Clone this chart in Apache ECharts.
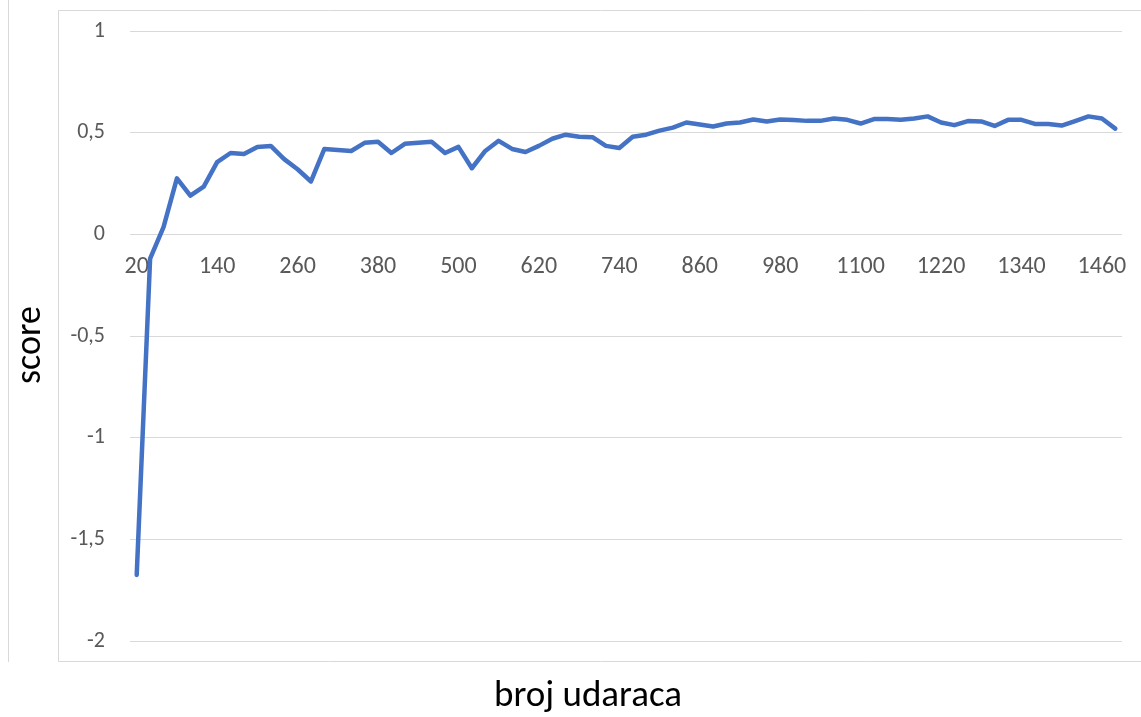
<!DOCTYPE html>
<html>
<head>
<meta charset="utf-8">
<title>score</title>
<script src="https://cdn.jsdelivr.net/npm/echarts@6/dist/echarts.min.js"></script>
<style>
  html, body { margin: 0; padding: 0; background: #fff; }
  #chart { width: 1141px; height: 717px; }
</style>
</head>
<body>
<div id="chart"></div>
<script>
// broj udaraca: 20, 40, ... 1480
const hits = [
  20, 40, 60, 80, 100, 120, 140, 160, 180, 200,
  220, 240, 260, 280, 300, 320, 340, 360, 380, 400,
  420, 440, 460, 480, 500, 520, 540, 560, 580, 600,
  620, 640, 660, 680, 700, 720, 740, 760, 780, 800,
  820, 840, 860, 880, 900, 920, 940, 960, 980, 1000,
  1020, 1040, 1060, 1080, 1100, 1120, 1140, 1160, 1180, 1200,
  1220, 1240, 1260, 1280, 1300, 1320, 1340, 1360, 1380, 1400,
  1420, 1440, 1460, 1480
];

const scores = [
  -1.675, -0.12, 0.035, 0.275, 0.19, 0.235, 0.355, 0.40, 0.395, 0.43,
  0.435, 0.37, 0.32, 0.26, 0.42, 0.415, 0.41, 0.45, 0.455, 0.40,
  0.445, 0.45, 0.455, 0.40, 0.43, 0.325, 0.41, 0.46, 0.42, 0.405,
  0.435, 0.47, 0.49, 0.48, 0.478, 0.435, 0.425, 0.48, 0.49, 0.51,
  0.525, 0.55, 0.54, 0.53, 0.545, 0.55, 0.565, 0.555, 0.565, 0.562,
  0.558, 0.558, 0.57, 0.563, 0.545, 0.567, 0.567, 0.563, 0.57, 0.58,
  0.55, 0.537, 0.557, 0.555, 0.533, 0.563, 0.563, 0.543, 0.543, 0.535,
  0.557, 0.58, 0.57, 0.52
];

const yTicks = { min: -2, max: 1, step: 0.5 };

const gridTop = 31;
const gridBottom = 76;
const chartHeight = 717;

// the category labels sit on the zero line, as in Excel
const plotHeight = chartHeight - gridTop - gridBottom;
const zeroFromBottom = plotHeight * (0 - yTicks.min) / (yTicks.max - yTicks.min);

const chart = echarts.init(document.getElementById("chart"));

const labelFont = "Carlito, 'Open Sans', 'Liberation Sans', sans-serif";

chart.setOption({
  animation: false,
  backgroundColor: "#ffffff",
  grid: { left: 130, right: 19, top: gridTop, bottom: gridBottom },
  graphic: [
    {
      type: "rect",
      shape: { x: 58.5, y: 10.5, width: 1100, height: 651 },
      style: { fill: "none", stroke: "#d9d9d9", lineWidth: 1 },
      silent: true,
      z: -1,
    },
    {
      type: "line",
      shape: { x1: 8.5, y1: 0, x2: 8.5, y2: 662 },
      style: { stroke: "#d9d9d9", lineWidth: 1 },
      silent: true,
      z: -1,
    },
    {
      type: "text",
      x: 31,
      y: 345,
      rotation: Math.PI / 2,
      style: {
        text: "score",
        x: 0,
        y: 0,
        fontSize: 36,
        fontFamily: labelFont,
        fill: "#000000",
        align: "center",
        verticalAlign: "middle",
      },
    },
    {
      type: "text",
      style: {
        text: "broj udaraca",
        x: 588,
        y: 697,
        fontSize: 37,
        fontFamily: labelFont,
        fill: "#000000",
        align: "center",
        verticalAlign: "middle",
      },
    },
  ],
  xAxis: {
    type: "category",
    data: hits,
    boundaryGap: true,
    position: "bottom",
    offset: -zeroFromBottom,
    axisLine: { show: false, onZero: false },
    axisTick: { show: false },
    axisLabel: {
      interval: 5,
      color: "#595959",
      fontSize: 24,
      fontFamily: labelFont,
      margin: 21,
    },
    splitLine: { show: false },
  },
  yAxis: {
    type: "value",
    min: yTicks.min,
    max: yTicks.max,
    interval: yTicks.step,
    axisLine: { show: false },
    axisTick: { show: false },
    axisLabel: {
      color: "#595959",
      fontSize: 22,
      fontFamily: labelFont,
      margin: 25,
      formatter: (v) => String(v).replace(".", ","),
    },
    splitLine: { lineStyle: { color: "#d9d9d9", width: 1 } },
  },
  series: [
    {
      name: "score",
      type: "line",
      data: scores,
      showSymbol: false,
      smooth: false,
      lineStyle: { color: "#4472c4", width: 4.5, join: "round", cap: "round" },
    },
  ],
});
</script>
</body>
</html>
